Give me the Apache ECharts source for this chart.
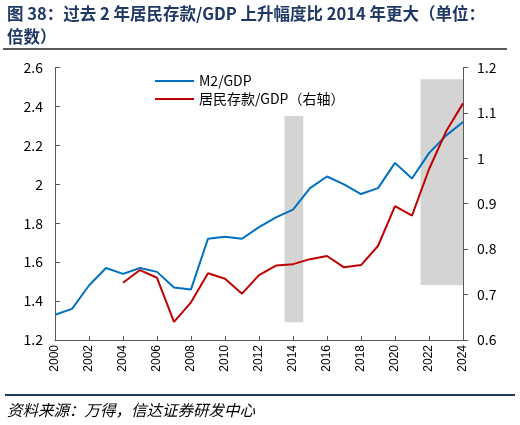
<!DOCTYPE html>
<html>
<head>
<meta charset="utf-8">
<script src="https://cdn.jsdelivr.net/npm/echarts@6/dist/echarts.min.js"></script>
<style>
  html, body { margin: 0; padding: 0; background: #fff; }
  #chart-container { width: 520px; height: 425px; }
</style>
</head>
<body>
<div id="chart-container"></div>
<script>
var years = [2000, 2001, 2002, 2003, 2004, 2005, 2006, 2007, 2008, 2009, 2010, 2011, 2012,
  2013, 2014, 2015, 2016, 2017, 2018, 2019, 2020, 2021, 2022, 2023, 2024];
var m2Gdp = [1.33, 1.36, 1.48, 1.57, 1.54, 1.57, 1.55, 1.47, 1.46, 1.72, 1.73, 1.72, 1.78,
  1.83, 1.87, 1.98, 2.04, 2.00, 1.95, 1.98, 2.11, 2.03, 2.16, 2.25, 2.32];
// 居民存款/GDP starts in 2004
var depositYears = [2004, 2005, 2006, 2007, 2008, 2009, 2010, 2011, 2012, 2013, 2014,
  2015, 2016, 2017, 2018, 2019, 2020, 2021, 2022, 2023, 2024];
var depositGdp = [0.726, 0.754, 0.737, 0.640, 0.683, 0.747, 0.735, 0.702, 0.743, 0.764, 0.767,
  0.778, 0.785, 0.760, 0.765, 0.807, 0.895, 0.874, 0.976, 1.059, 1.121];
// shaded periods [x from, right-axis from, x to, right-axis to]
var bands = [
  [2013.5, 0.639, 2014.6, 1.093],
  [2021.5, 0.721, 2024, 1.174]
];
var seriesNames = ['M2/GDP', '居民存款/GDP（右轴）'];

var dom = document.getElementById('chart-container');
var myChart = echarts.init(dom, null, { renderer: 'canvas' });

var font = '"Noto Sans CJK SC", sans-serif';
var navy = '#1F3864';

var option = {
  animation: false,
  backgroundColor: '#fff',
  grid: { left: 55, right: 57, top: 67.5, bottom: 85 },
  legend: {
    orient: 'vertical',
    left: 150,
    top: 69,
    itemWidth: 39,
    itemHeight: 14,
    itemGap: 4,
    icon: 'path://M0,6 L40,6 L40,8 L0,8 Z',
    textStyle: { fontSize: 14, color: '#000', fontFamily: font },
    data: seriesNames
  },
  xAxis: {
    type: 'value',
    min: 2000, max: 2024, interval: 2,
    splitLine: { show: false },
    axisLine: { lineStyle: { color: '#595959' } },
    axisTick: { inside: true, length: 4, lineStyle: { color: '#595959' } },
    axisLabel: { rotate: 90, fontSize: 12, color: '#000', margin: 5, fontFamily: 'Liberation Sans',
      formatter: function (v) { return String(v); } }
  },
  yAxis: [{
    type: 'value',
    min: 1.2, max: 2.6, interval: 0.2,
    splitLine: { show: false },
    axisLine: { show: true, lineStyle: { color: '#595959' } },
    axisTick: { show: true, inside: true, length: 5, lineStyle: { color: '#595959' } },
    axisLabel: { fontSize: 14, color: '#000', margin: 12, fontFamily: font,
      formatter: function (v) { return +v.toFixed(1) + ''; } }
  }, {
    type: 'value',
    min: 0.6, max: 1.2, interval: 0.1,
    splitLine: { show: false },
    axisLine: { show: true, lineStyle: { color: '#595959' } },
    axisTick: { show: true, length: 5, lineStyle: { color: '#595959' } },
    axisLabel: { fontSize: 14, color: '#000', margin: 14, fontFamily: font,
      formatter: function (v) { return +v.toFixed(1) + ''; } }
  }],
  series: [{
    name: seriesNames[0],
    type: 'line',
    yAxisIndex: 0,
    symbol: 'none',
    lineStyle: { color: '#0070C0', width: 2 },
    itemStyle: { color: '#0070C0' },
    data: years.map(function (y, i) { return [y, m2Gdp[i]]; })
  }, {
    name: seriesNames[1],
    type: 'line',
    yAxisIndex: 1,
    symbol: 'none',
    lineStyle: { color: '#C00000', width: 2 },
    itemStyle: { color: '#C00000' },
    data: depositYears.map(function (y, i) { return [y, depositGdp[i]]; })
  }, {
    name: 'bands',
    type: 'line',
    yAxisIndex: 1,
    z: 5,
    data: [],
    markArea: {
      silent: true,
      itemStyle: { color: 'rgba(128,128,128,0.34)' },
      data: bands.map(function (b) {
        return [{ coord: [b[0], b[1]] }, { coord: [b[2], b[3]] }];
      })
    }
  }],
  graphic: [
    { type: 'text', left: 7, top: 5,
      style: { text: '图 38：过去 2 年居民存款/GDP 上升幅度比 2014 年更大（单位：',
        font: 'bold 16.5px ' + font, fill: navy } },
    { type: 'text', left: 7, top: 28,
      style: { text: '倍数）', font: 'bold 16.5px ' + font, fill: navy } },
    { type: 'line', shape: { x1: 3, y1: 49, x2: 507, y2: 49 },
      style: { stroke: '#222', lineWidth: 1.5 } },
    { type: 'line', shape: { x1: 5, y1: 395, x2: 515, y2: 395 },
      style: { stroke: navy, lineWidth: 2 } },
    { type: 'text', left: 7, top: 402,
      style: { text: '资料来源：万得，信达证券研发中心',
        font: 'italic 15.5px ' + font, fill: '#000' } }
  ]
};

myChart.setOption(option);
window.addEventListener('resize', myChart.resize);
</script>
</body>
</html>
